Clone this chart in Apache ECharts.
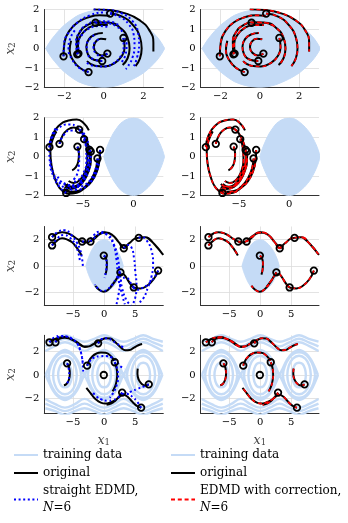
<!DOCTYPE html>
<html><head><meta charset="utf-8">
<script src="https://cdn.jsdelivr.net/npm/echarts@6/dist/echarts.min.js"></script>
<style>html,body{margin:0;padding:0;background:#fff}#c{width:348px;height:523px}</style>
</head><body><div id="c"></div>
<script>
// ---------------- DATA ----------------
// training data (pendulum closed orbits, panels 1-3)
const eyeUpper = [[-2.93,0],[-2.67,0.42],[-2.3,0.88],[-2.0,1.19],[-1.6,1.5],[-1.29,1.7],[-0.8,1.88],[-0.4,1.96],[0,2.0],[0.4,1.96],[0.8,1.86],[1.3,1.65],[1.6,1.5],[2.0,1.25],[2.35,0.95],[2.68,0.6],[2.9,0.3],[3.07,0]];
const eyeLower = [[-2.93,0],[-2.67,-0.42],[-2.3,-0.88],[-2.0,-1.19],[-1.6,-1.5],[-1.29,-1.7],[-0.8,-1.88],[-0.4,-1.96],[0,-2.0],[0.4,-1.96],[0.8,-1.86],[1.3,-1.65],[1.6,-1.5],[2.0,-1.25],[2.35,-0.95],[2.68,-0.6],[2.9,-0.3],[3.07,0]];
// training data (panel 4): orbits in each well and rotating trajectories
const wellCenters = [-6.28, 0, 6.28];
const orbitSmall = [[1.1,0],[0.95,0.55],[0.55,0.95],[0,1.05],[-0.55,0.95],[-0.95,0.55],[-1.1,0],[-0.95,-0.55],[-0.55,-0.95],[0,-1.05],[0.55,-0.95],[0.95,-0.55],[1.1,0]];
const orbitMid = [[1.9,0],[1.65,0.8],[1.0,1.4],[0,1.65],[-1.0,1.4],[-1.65,0.8],[-1.9,0],[-1.65,-0.8],[-1.0,-1.4],[0,-1.65],[1.0,-1.4],[1.65,-0.8],[1.9,0]];
const orbitLarge = [[2.6,0],[2.3,0.75],[1.6,1.45],[0.8,1.85],[0,1.95],[-0.8,1.85],[-1.6,1.45],[-2.3,0.75],[-2.6,0],[-2.3,-0.75],[-1.6,-1.45],[-0.8,-1.85],[0,-1.95],[0.8,-1.85],[1.6,-1.45],[2.3,-0.75],[2.6,0]];
const orbitOuter = [[3.05,0],[2.6,0.6],[2.0,1.25],[1.2,1.8],[0,2.15],[-1.2,1.8],[-2.0,1.25],[-2.6,0.6],[-3.05,0],[-2.6,-0.6],[-2.0,-1.25],[-1.2,-1.8],[0,-2.15],[1.2,-1.8],[2.0,-1.25],[2.6,-0.6],[3.05,0]];
const rotX = [-9.42,-7.85,-6.28,-4.71,-3.14,-1.57,0,1.57,3.14,4.71,6.28,7.85,9.42];
const rotTop1 = [2.85,3.1,3.4,3.1,2.85,3.1,3.4,3.1,2.85,3.1,3.4,3.1,2.85];
const rotTop2 = [2.45,2.8,3.1,2.8,2.45,2.8,3.1,2.8,2.45,2.8,3.1,2.8,2.45];
const rotTop3 = [2.05,2.5,2.8,2.5,2.05,2.5,2.8,2.5,2.05,2.5,2.8,2.5,2.05];
const rotBot1 = [-2.85,-3.1,-3.4,-3.1,-2.85,-3.1,-3.4,-3.1,-2.85,-3.1,-3.4,-3.1,-2.85];
const rotBot2 = [-2.45,-2.8,-3.1,-2.8,-2.45,-2.8,-3.1,-2.8,-2.45,-2.8,-3.1,-2.8,-2.45];
const rotBot3 = [-2.05,-2.5,-2.8,-2.5,-2.05,-2.5,-2.8,-2.5,-2.05,-2.5,-2.8,-2.5,-2.05];

// panel row 1
const p1Original = [
 [[-0.51,2.01],[0.26,1.97],[1.13,1.79],[1.82,1.44],[2.3,0.93],[2.5,0.3],[2.5,-0.15]],
 [[0.32,1.79],[0.96,1.62],[1.48,1.19],[1.82,0.59],[1.91,0],[1.82,-0.52],[1.6,-0.9]],
 [[-0.42,1.32],[0.27,1.32],[0.87,1.02],[1.2,0.55],[1.3,0],[1.2,-0.5],[0.95,-0.85]],
 [[0.99,0.54],[1.05,0.05],[0.9,-0.4],[0.55,-0.75],[0.05,-0.92],[-0.45,-0.88],[-0.85,-0.65]],
 [[-2.03,-0.4],[-1.98,0.33],[-1.72,0.93],[-1.29,1.36],[-0.77,1.6],[-0.2,1.7],[0.3,1.68]],
 [[-1.34,-0.3],[-1.37,0.33],[-1.2,0.85],[-0.85,1.19],[-0.35,1.35],[0.2,1.33],[0.65,1.18]],
 [[-1.28,-0.26],[-1.3,0.25],[-1.12,0.72],[-0.78,1.05],[-0.3,1.2],[0.2,1.2]],
 [[0.18,-0.26],[-0.1,-0.36],[-0.38,-0.22],[-0.5,0.08],[-0.4,0.36],[-0.15,0.5],[0.12,0.47]],
 [[-0.08,-0.64],[-0.5,-0.58],[-0.8,-0.3],[-0.88,0.1],[-0.75,0.48],[-0.45,0.72],[-0.05,0.8]],
 [[-0.77,-1.21],[-1.2,-1.0],[-1.55,-0.6],[-1.72,-0.1],[-1.65,0.4]]
];
const p1Straight = [
 [[-0.51,2.01],[0.2,1.98],[0.9,1.8],[1.45,1.4],[1.72,0.85],[1.78,0.2],[1.68,-0.45],[1.5,-0.95]],
 [[0.32,1.79],[0.85,1.6],[1.25,1.25],[1.5,0.75],[1.55,0.15],[1.45,-0.45],[1.2,-0.95],[1.1,-1.05]],
 [[-0.42,1.32],[0.15,1.3],[0.65,1.12],[1.0,0.75],[1.15,0.25],[1.1,-0.3],[0.85,-0.75]],
 [[0.99,0.54],[1.0,0.05],[0.85,-0.4],[0.5,-0.75],[0.05,-0.92],[-0.45,-0.9],[-0.9,-0.7]],
 [[-2.03,-0.4],[-2.0,0.25],[-1.75,0.85],[-1.3,1.35],[-0.7,1.7],[0,1.85],[0.6,1.8]],
 [[-1.34,-0.3],[-1.4,0.3],[-1.22,0.85],[-0.85,1.22],[-0.3,1.4],[0.3,1.38],[0.8,1.15]],
 [[-1.28,-0.26],[-1.28,0.25],[-1.1,0.7],[-0.75,1.02],[-0.25,1.15],[0.25,1.1]],
 [[0.18,-0.26],[-0.1,-0.38],[-0.4,-0.25],[-0.52,0.08],[-0.4,0.38],[-0.12,0.5]],
 [[-0.08,-0.64],[-0.52,-0.55],[-0.82,-0.25],[-0.86,0.15],[-0.68,0.52],[-0.35,0.75]],
 [[-0.77,-1.21],[-1.25,-0.98],[-1.6,-0.55],[-1.78,-0.05],[-1.7,0.5],[-1.4,1.0]]
];
// panel row 2
const p2Original = [
 [[-8.29,0.49],[-8.06,1.04],[-7.4,1.57],[-6.41,1.86],[-5.59,1.91],[-4.9,1.72],[-4.4,1.35]],
 [[-7.3,0.66],[-7.0,1.08],[-6.5,1.38],[-5.9,1.5],[-5.36,1.39]],
 [[-5.36,1.39],[-4.9,1.1],[-4.5,0.65],[-4.3,0.1],[-4.35,-0.5],[-4.7,-1.05],[-5.3,-1.45],[-6.0,-1.55],[-6.6,-1.4]],
 [[-4.87,0.9],[-4.6,0.4],[-4.55,-0.2],[-4.8,-0.8],[-5.3,-1.2],[-5.9,-1.35],[-6.4,-1.25]],
 [[-5.53,0.52],[-5.38,0.15],[-5.45,-0.25],[-5.7,-0.55],[-6.05,-0.7]],
 [[-4.34,0.35],[-4.3,-0.1],[-4.5,-0.6],[-4.9,-1.1],[-5.5,-1.45],[-6.2,-1.55],[-6.8,-1.4]],
 [[-4.21,0.26],[-4.2,-0.2],[-4.4,-0.7],[-4.85,-1.2],[-5.5,-1.55],[-6.2,-1.65],[-6.8,-1.55]],
 [[-3.55,-0.09],[-3.7,-0.6],[-4.1,-1.1],[-4.7,-1.5],[-5.4,-1.75],[-6.2,-1.8],[-6.9,-1.65]],
 [[-3.29,0.35],[-3.35,-0.2],[-3.6,-0.75],[-4.1,-1.25],[-4.8,-1.6],[-5.6,-1.85],[-6.4,-1.9],[-7.1,-1.7]],
 [[-6.64,-1.86],[-7.3,-1.6],[-7.8,-1.05],[-8.1,-0.4],[-8.2,0.25],[-8.0,0.85],[-7.6,1.3]]
];
const p2Straight = [
 [[-8.29,0.49],[-8.0,1.0],[-7.3,1.5],[-6.4,1.65],[-5.5,1.55],[-4.9,1.2],[-4.45,0.7],[-4.2,0.1]],
 [[-7.3,0.66],[-6.9,1.1],[-6.2,1.35],[-5.5,1.3],[-5.0,1.0],[-4.7,0.55]],
 [[-5.36,1.39],[-4.85,1.0],[-4.55,0.4],[-4.5,-0.25],[-4.75,-0.85],[-5.2,-1.3],[-5.8,-1.5],[-6.4,-1.45]],
 [[-4.87,0.9],[-4.65,0.35],[-4.65,-0.3],[-4.95,-0.85],[-5.45,-1.2],[-6.0,-1.3]],
 [[-5.53,0.52],[-5.35,0.0],[-5.4,-0.5],[-5.6,-0.95],[-5.95,-1.2]],
 [[-4.34,0.35],[-4.35,-0.2],[-4.6,-0.75],[-5.1,-1.2],[-5.7,-1.45],[-6.4,-1.45],[-7.0,-1.25]],
 [[-4.21,0.26],[-4.25,-0.3],[-4.5,-0.85],[-5.0,-1.3],[-5.6,-1.55],[-6.3,-1.6]],
 [[-3.55,-0.09],[-3.75,-0.65],[-4.2,-1.15],[-4.85,-1.45],[-5.6,-1.55],[-6.4,-1.5],[-7.1,-1.3],[-7.6,-0.9]],
 [[-3.29,0.35],[-3.4,-0.3],[-3.7,-0.85],[-4.2,-1.3],[-4.9,-1.6],[-5.7,-1.7],[-6.5,-1.65],[-7.3,-1.35],[-7.9,-0.85],[-8.2,-0.2]],
 [[-6.64,-1.86],[-7.3,-1.55],[-7.9,-1.0],[-8.25,-0.3],[-8.3,0.4],[-8.1,1.0],[-7.7,1.45]]
];
// panel row 3
const p3Original = [
 [[-8.35,2.19],[-7.6,2.45],[-6.74,2.57],[-5.9,2.5],[-5.14,2.32],[-4.3,2.05],[-3.53,1.86],[-2.9,1.8]],
 [[-8.35,1.56],[-7.5,1.95],[-6.74,2.1],[-5.9,2.0],[-5.14,1.8],[-4.5,1.45],[-4.07,1.17],[-3.6,0.8]],
 [[-3.53,1.86],[-2.9,1.78],[-2.19,1.9],[-1.12,2.31],[-0.05,2.57],[1.28,2.37],[2.35,1.81],[3.0,1.45]],
 [[-2.19,1.86],[-1.5,2.1],[-0.6,2.45],[0.3,2.55],[1.28,2.37],[2.35,1.81],[3.16,1.35],[3.7,1.55]],
 [[-0.05,0.79],[0.3,0.6],[0.45,0.2],[0.4,-0.25],[0.2,-0.65]],
 [[3.16,1.35],[3.7,1.6],[4.23,1.81],[5.0,2.1],[5.56,2.14],[6.63,2.19],[8.0,1.69],[9.35,0.92]],
 [[5.56,2.14],[6.63,2.19],[7.4,1.95],[8.0,1.69],[8.7,1.3],[9.5,0.85]],
 [[2.62,-0.48],[2.1,-0.9],[1.55,-1.3],[0.75,-1.75],[-0.05,-1.95],[-0.8,-1.8],[-1.4,-1.5]],
 [[4.76,-1.63],[4.1,-1.3],[3.5,-0.85],[3.0,-0.6],[2.4,-0.7],[1.8,-1.1],[1.0,-1.6]],
 [[8.67,-0.35],[7.97,-0.99],[6.9,-1.5],[5.83,-1.7],[4.76,-1.63],[4.0,-1.2],[3.4,-0.75]]
];
const p3Straight = [
 [[-8.35,2.19],[-7.4,2.6],[-6.3,2.72],[-5.24,2.34],[-4.4,1.8],[-3.9,1.3],[-3.55,0.6],[-3.4,-0.1]],
 [[-8.35,1.56],[-7.5,2.1],[-6.5,2.35],[-5.5,2.15],[-4.7,1.7],[-4.2,1.1],[-3.9,0.45]],
 [[-3.53,1.86],[-2.6,1.9],[-1.76,2.3],[-0.7,2.6],[0.37,2.4],[1.44,1.7],[1.98,0.5],[2.25,-0.8],[2.78,-1.98],[3.32,-2.9]],
 [[-2.19,1.86],[-1.4,2.2],[-0.4,2.5],[0.7,2.35],[1.6,1.6],[2.2,0.6],[2.5,-0.5],[2.9,-1.7],[3.6,-2.6],[4.3,-3.0]],
 [[-0.05,0.79],[0.3,0.6],[0.4,0.1],[0.3,-0.4],[0.05,-0.9]],
 [[3.16,1.35],[3.8,1.6],[4.4,1.4],[4.8,0.6],[5.0,-0.4],[5.2,-1.5],[5.0,-2.4],[4.6,-2.9]],
 [[5.56,2.14],[6.0,2.2],[6.79,1.96],[7.59,1.2],[7.86,0.18],[7.59,-0.84],[7.06,-1.6],[6.26,-2.49],[5.5,-2.8]],
 [[2.62,-0.48],[2.0,-0.9],[1.4,-1.35],[0.6,-1.75],[-0.2,-1.9],[-0.9,-1.75],[-1.5,-1.4]],
 [[4.76,-1.63],[4.2,-1.25],[3.6,-0.9],[3.0,-0.9],[2.6,-1.4],[2.3,-2.2],[2.0,-2.9]],
 [[8.67,-0.35],[8.0,-0.9],[7.0,-1.4],[6.0,-1.7],[5.2,-1.8],[4.5,-1.5]]
];
// panel row 4
const p4Original = [
 [[-8.77,2.8],[-8.0,3.05],[-7.28,3.2],[-6.3,3.25],[-5.5,3.12],[-4.6,2.9],[-3.9,2.65],[-3.2,2.45],[-2.5,2.45],[-1.9,2.6],[-1.3,2.8]],
 [[-7.81,2.8],[-7.2,3.1],[-6.3,3.2],[-5.5,3.1],[-4.6,2.85],[-3.8,2.55],[-3.1,2.4],[-2.4,2.45],[-1.7,2.65],[-1.0,2.85],[-0.3,3.05]],
 [[-0.96,2.71],[-0.4,3.0],[0.3,3.15],[1.0,3.12],[1.6,2.9],[2.2,2.6],[2.8,2.3],[3.4,2.12],[4.1,2.15],[4.8,2.35],[5.5,2.55],[6.1,2.66]],
 [[-2.73,0.8],[-2.4,1.25],[-1.93,1.57],[-1.3,1.82],[-0.5,1.93],[0.21,1.91],[0.8,1.75],[1.28,1.5],[1.6,1.2]],
 [[1.71,1.09],[2.0,0.6],[2.1,0.05],[2.0,-0.5],[1.75,-1.0],[1.35,-1.4]],
 [[-5.94,1.0],[-5.6,0.6],[-5.5,0.1],[-5.65,-0.4],[-6.0,-0.75],[-6.45,-0.88]],
 [[-0.05,0],[-0.05,0.01]],
 [[2.89,-1.51],[2.4,-1.85],[1.8,-2.15],[1.0,-2.35],[0.2,-2.45],[-0.6,-2.35],[-1.3,-2.1],[-1.9,-1.75],[-2.4,-1.4],[-2.85,-1.1]],
 [[5.94,-2.8],[5.4,-2.7],[4.8,-2.45],[4.2,-2.1],[3.6,-1.8],[3.0,-1.7],[2.4,-1.9],[1.8,-2.2],[1.1,-2.45],[0.4,-2.55]],
 [[7.17,-0.8],[6.6,-0.9],[6.0,-0.75],[5.55,-0.4],[5.35,0.1],[5.4,0.55]]
];
const p4Straight = [
 [[-8.77,2.8],[-8.0,3.2],[-7.0,3.35],[-6.0,3.3],[-5.0,3.05],[-4.2,2.6],[-3.7,1.9],[-3.45,1.1],[-3.35,0.3]],
 [[-7.81,2.8],[-7.2,3.25],[-6.2,3.3],[-5.2,3.1],[-4.4,2.75],[-3.9,2.2],[-3.55,1.5],[-3.4,0.7]],
 [[-0.96,2.71],[-0.3,3.1],[0.5,3.15],[1.3,2.95],[2.0,2.7],[2.8,2.45],[3.4,2.2]],
 [[-2.73,0.8],[-2.2,1.25],[-1.6,1.5],[-0.7,1.6],[0.3,1.62],[1.2,1.5],[2.0,1.15],[2.6,0.75],[3.3,0.55]],
 [[1.71,1.09],[2.1,0.5],[2.25,-0.2],[2.0,-0.9],[1.5,-1.5],[0.9,-1.95]],
 [[-5.94,1.0],[-5.7,0.6],[-5.6,0.0],[-5.75,-0.5],[-6.1,-0.85]],
 [[-0.05,0],[-0.05,0.01]],
 [[2.89,-1.51],[2.2,-1.95],[1.4,-2.15],[0.5,-2.2],[-0.4,-2.1],[-1.2,-1.85],[-1.8,-1.5]],
 [[5.94,-2.8],[5.3,-2.3],[4.6,-1.9],[3.9,-1.65],[3.2,-1.6],[2.5,-1.8]],
 [[7.17,-0.8],[6.3,-1.0],[5.3,-1.2],[4.4,-1.4],[3.6,-1.55]]
];
// axes
const rowXRange = [[-3,3],[-8.8,2.95],[-9.6,9.5],[-9.6,9.5]];
const rowYRange = [[-2,2],[-2,2],[-3,3],[-3.3,3.4]];
const rowXTicks = [[-2,0,2],[-5,0],[-5,0,5],[-5,0,5]];
const rowYTicks = [[-2,-1,0,1,2],[-2,-1,0,1,2],[-2,0,2],[-2,0,2]];
const originals = [p1Original,p2Original,p3Original,p4Original];
const straights = [p1Straight,p2Straight,p3Straight,p4Straight];
const NAME_TRAIN='training data', NAME_ORIG='original', NAME_STR='straight EDMD, N=6', NAME_COR='EDMD with correction, N=6';

// ---------------- LAYOUT / STYLE ----------------
const TRAIN='#c5dbf6', FONT='DejaVu Serif';
const rowTop=[9.5,117.7,226.5,335.3], rowH=[78,78,79,78.2];
const colLeft=[44.3,200.7], colW=[119,118.3];
const fmt = v => (v<0 ? '\u2212'+(-v) : ''+v);
function joinSegs(trajs){ const out=[]; trajs.forEach((t,i)=>{ if(i) out.push(['-','-']); t.forEach(p=>out.push(p)); }); return out; }
const nameRich = {i:{fontFamily:FONT,fontStyle:'italic',fontSize:12.5,color:'#444'},s:{fontFamily:FONT,fontSize:8.5,color:'#444',verticalAlign:'bottom'}};

const grid=[], xAxis=[], yAxis=[], series=[];
for(let r=0;r<4;r++) for(let c=0;c<2;c++){
  const gi=r*2+c;
  grid.push({left:colLeft[c], top:rowTop[r], width:colW[c], height:rowH[r], containLabel:false, outerBoundsMode:'none'});
  xAxis.push({type:'value', gridIndex:gi, min:rowXRange[r][0], max:rowXRange[r][1],
    axisLine:{show:true,onZero:false,lineStyle:{color:'#333',width:1}},
    axisTick:{show:false,customValues:rowXTicks[r]},
    axisLabel:{customValues:rowXTicks[r],formatter:fmt,fontFamily:FONT,fontSize:10,color:'#000',margin:4},
    splitLine:{show:true,lineStyle:{color:'#dcdcdc',width:0.8}},
    name: r===3 ? '{i|x}{s|1}' : '', nameLocation:'middle', nameGap:21, nameMoveOverlap:false,
    nameTextStyle:{rich:nameRich}
  });
  yAxis.push({type:'value', gridIndex:gi, min:rowYRange[r][0], max:rowYRange[r][1],
    axisLine:{show:true,onZero:false,lineStyle:{color:'#333',width:1}},
    axisTick:{show:false,customValues:rowYTicks[r]},
    axisLabel:{customValues:rowYTicks[r],formatter:fmt,fontFamily:FONT,fontSize:10,color:'#000',margin:5},
    splitLine:{show:true,lineStyle:{color:'#dcdcdc',width:0.8}},
    name: c===0 ? '{i|x}{s|2}' : '', nameLocation:'middle', nameRotate:90, nameGap:27, nameMoveOverlap:false,
    nameTextStyle:{rich:nameRich}
  });
}
// training data, panel 4 (line series first so the legend uses a line icon)
const trainLines=[];
wellCenters.forEach(cx=>[orbitSmall,orbitMid,orbitLarge,orbitOuter].forEach(o=>trainLines.push(o.map(p=>[p[0]+cx,p[1]]))));
[rotTop1,rotTop2,rotTop3,rotBot1,rotBot2,rotBot3].forEach(arr=>trainLines.push(rotX.map((x,i)=>[x,arr[i]])));
[6,7].forEach(gi=>series.push({type:'line',name:NAME_TRAIN,xAxisIndex:gi,yAxisIndex:gi,data:joinSegs(trainLines),
  showSymbol:false,symbol:'none',smooth:0.4,connectNulls:false,silent:true,z:1,
  lineStyle:{color:TRAIN,width:2.4},itemStyle:{color:TRAIN}}));
// training data panels 1-3 (filled region)
const eyePoly = eyeUpper.concat(eyeLower.slice().reverse());
[0,1,2,3,4,5].forEach(gi=>series.push({type:'custom',name:NAME_TRAIN,xAxisIndex:gi,yAxisIndex:gi,coordinateSystem:'cartesian2d',
  clip:true,silent:true,z:1,data:[[0,0]],itemStyle:{color:TRAIN},
  renderItem:(params,api)=>({type:'polygon',shape:{points:eyePoly.map(p=>api.coord(p)),smooth:0.3},style:{fill:TRAIN,stroke:TRAIN,lineWidth:1}})}));
// original trajectories
for(let r=0;r<4;r++) for(let c=0;c<2;c++){
  const gi=r*2+c;
  series.push({type:'line',name:NAME_ORIG,xAxisIndex:gi,yAxisIndex:gi,data:joinSegs(originals[r]),showSymbol:false,symbol:'none',
    smooth:0.5,connectNulls:false,silent:true,z:2,lineStyle:{color:'#000',width:2},itemStyle:{color:'#000'}});
}
// predictions
for(let r=0;r<4;r++){
  series.push({type:'line',name:NAME_STR,xAxisIndex:r*2,yAxisIndex:r*2,data:joinSegs(straights[r]),showSymbol:false,symbol:'none',
    smooth:0.5,connectNulls:false,silent:true,z:3,lineStyle:{color:'#0000ff',width:2,type:[2,2.6],cap:'butt'},itemStyle:{color:'#0000ff'}});
  series.push({type:'line',name:NAME_COR,xAxisIndex:r*2+1,yAxisIndex:r*2+1,data:joinSegs(originals[r]),showSymbol:false,symbol:'none',
    smooth:0.5,connectNulls:false,silent:true,z:3,lineStyle:{color:'#ff0000',width:1.6,type:[4,2.8],cap:'butt'},itemStyle:{color:'#ff0000'}});
}
// start markers
for(let r=0;r<4;r++) for(let c=0;c<2;c++){
  const gi=r*2+c;
  series.push({type:'scatter',name:'start',xAxisIndex:gi,yAxisIndex:gi,data:originals[r].map(t=>t[0]),symbol:'circle',symbolSize:6.5,
    silent:true,z:4,itemStyle:{color:'rgba(0,0,0,0)',borderColor:'#000',borderWidth:1.8,opacity:1}});
}
const legendText = {fontFamily:FONT,fontSize:12,color:'#000',lineHeight:17,rich:{i:{fontFamily:FONT,fontStyle:'italic',fontSize:12,lineHeight:17,color:'#000'}}};
const legFmt = n => n.indexOf(', N=6')>0 ? n.replace(', N=6', ',\n{i|N}=6') : n;
const legBase = {orient:'vertical',top:446.5,height:120,itemWidth:24,itemHeight:10,itemGap:1,padding:0,selectedMode:false,
  itemStyle:{opacity:0,borderWidth:0},lineStyle:{width:2},formatter:legFmt,textStyle:legendText};
const legend=[
  Object.assign({left:13,data:[NAME_TRAIN,NAME_ORIG,NAME_STR]},legBase),
  Object.assign({left:170,data:[NAME_TRAIN,NAME_ORIG,NAME_COR]},legBase)
];
const chart=echarts.init(document.getElementById('c'),null,{renderer:'canvas'});
chart.setOption({animation:false,backgroundColor:'#fff',grid,xAxis,yAxis,series,legend});
</script></body></html>
